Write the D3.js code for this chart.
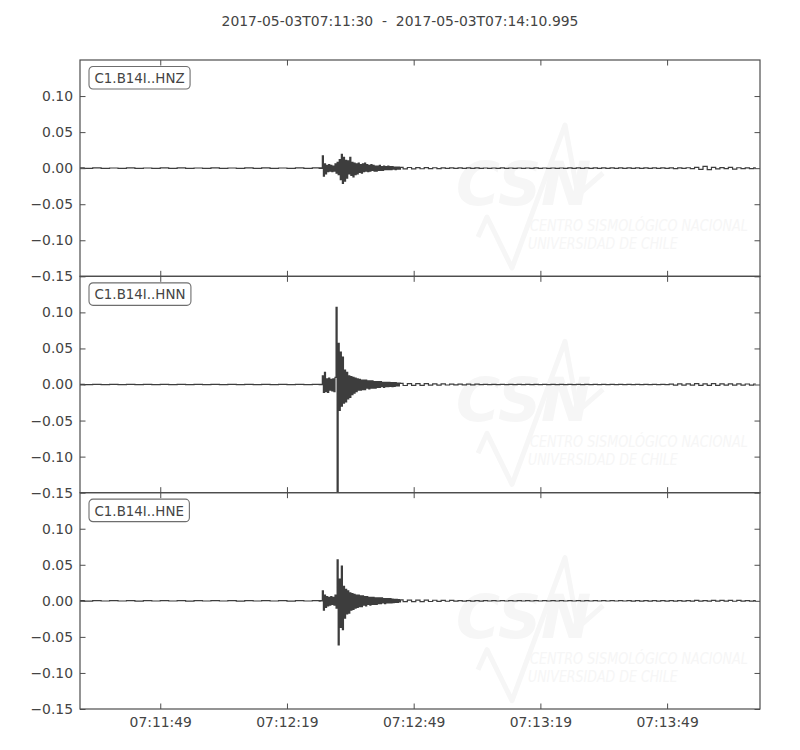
<!DOCTYPE html>
<html><head><meta charset="utf-8">
<script src="https://cdn.jsdelivr.net/npm/d3@7"></script>
<style>body{margin:0;background:#fff} svg{display:block} text{font-family:"DejaVu Sans",sans-serif}</style>
</head><body><svg id="c" width="800" height="750"></svg>
<script>
// ---------------- data ----------------
const titleText = "2017-05-03T07:11:30  -  2017-05-03T07:14:10.995";
const channels = ["C1.B14I..HNZ", "C1.B14I..HNN", "C1.B14I..HNE"];
const durationSec = 160.995;           // seconds after 07:11:30
const yTicks = [-0.15, -0.10, -0.05, 0.00, 0.05, 0.10];
const yDomain = [-0.15, 0.15];
const xTickSeconds = [19, 49, 79, 109, 139];
const xTickLabels = ["07:11:49", "07:12:19", "07:12:49", "07:13:19", "07:13:49"];

// pre-event noise: one sample every 2 s from t = 0
const preStart = 0, preStep = 2;
const hnzPre = [0.0003,-0.0002,0.0003,-0.0003,0.0002,-0.0003,0.0003,-0.0002,0.0002,-0.0003,0.0003,-0.0002,0.0003,-0.0003,0.0002,-0.0003,0.0003,-0.0002,0.0002,-0.0003,0.0003,-0.0002,0.0003,-0.0003,0.0002,-0.0003,0.0003,-0.0003,0.0003];
const hnnPre = [0.0002,-0.0002,0.0002,-0.0002,0.0002,-0.0002,0.0002,-0.0002,0.0002,-0.0002,0.0002,-0.0002,0.0002,-0.0002,0.0002,-0.0002,0.0002,-0.0002,0.0002,-0.0002,0.0002,-0.0002,0.0002,-0.0002,0.0002,-0.0002,0.0002,-0.0002,0.0002];
const hnePre = [0.0002,-0.0003,0.0002,-0.0002,0.0003,-0.0002,0.0002,-0.0003,0.0002,-0.0002,0.0003,-0.0002,0.0002,-0.0003,0.0002,-0.0002,0.0003,-0.0002,0.0002,-0.0003,0.0002,-0.0002,0.0003,-0.0002,0.0002,-0.0003,0.0002,-0.0002,0.0003];

// event: one sample every 0.25 s from t = 56.5
const eventStart = 56.5, eventStep = 0.25;
const hnzEvent = [0.0003,-0.0003,0.0003,-0.0003,
  0.017,-0.011,0.006,-0.008, 0.004,-0.005,0.005,-0.004, 0.004,-0.005,0.003,-0.004,
  0.006,-0.007,0.008,-0.009, 0.012,-0.016,0.019,-0.021, 0.015,-0.018,0.011,-0.014,
  0.010,-0.008,0.015,-0.010, 0.008,-0.012,0.007,-0.009, 0.006,-0.008,0.007,-0.006,
  0.005,-0.007,0.006,-0.005, 0.007,-0.004,0.005,-0.005, 0.004,-0.004,0.005,-0.003,
  0.004,-0.004,0.003,-0.004, 0.003,-0.003,0.004,-0.003, 0.002,-0.003,0.003,-0.002,
  0.002,-0.002,0.003,-0.002, 0.002,-0.002,0.002,-0.0015, 0.0015,-0.002,0.0015,-0.0015,
  0.0015,-0.0015];
const hnnEvent = [0.0002,-0.0002,0.0002,-0.0002,
  0.012,-0.011,0.017,-0.010, 0.008,-0.011,0.009,-0.008, 0.007,-0.009,0.008,-0.010,
  0.010,0.107,-0.155,0.057, -0.036,0.045,-0.030,0.038, -0.026,0.020,-0.024,0.017,
  -0.020,0.012,-0.018,0.011, -0.014,0.010,-0.012,0.009, -0.010,0.008,-0.008,0.007,
  -0.008,0.006,-0.007,0.006, -0.007,0.006,-0.005,0.005, -0.006,0.005,-0.005,0.005,
  -0.005,0.004,-0.005,0.004, -0.004,0.004,-0.004,0.004, -0.003,0.003,-0.004,0.003,
  -0.003,0.003,-0.003,0.003, -0.0025,0.0025,-0.003,0.0025, -0.0025,0.0025,-0.002,0.002,
  -0.002,0.002];
const hneEvent = [0.0002,-0.0003,0.0002,-0.0002,
  0.014,-0.013,0.008,-0.009, 0.006,-0.007,0.005,-0.006, 0.006,-0.005,0.005,-0.006,
  0.008,-0.010,0.057,-0.061, 0.030,-0.037,0.048,-0.040, 0.020,-0.024,0.016,-0.018,
  0.014,-0.017,0.011,-0.013, 0.010,-0.012,0.009,-0.010, 0.008,-0.009,0.008,-0.008,
  0.007,-0.008,0.007,-0.006, 0.006,-0.007,0.006,-0.005, 0.005,-0.006,0.005,-0.005,
  0.005,-0.005,0.004,-0.005, 0.004,-0.004,0.004,-0.004, 0.004,-0.003,0.003,-0.004,
  0.003,-0.003,0.003,-0.003, 0.003,-0.003,0.0025,-0.0025, 0.002,-0.002,0.002,-0.002,
  0.0018,-0.0016];

// coda: one sample every 1 s from t = 76
const codaStart = 76, codaStep = 1;
const hnzCoda = [0.0011,-0.0011,0.0009,-0.001,0.0008,-0.0008,0.0007,-0.0007,0.0006,-0.0005,
  0.0004,-0.0004,0.0004,-0.0003,0.0003,-0.0004,0.0003,-0.0003,0.0003,-0.0003,
  0.00025,-0.0003,0.00025,-0.00025,0.0003,-0.00025,0.00025,-0.00025,0.00025,-0.0003,
  0.00025,-0.00025,0.0003,-0.00025,0.00025,-0.00025,0.00025,-0.0003,0.00025,-0.00025,
  0.0003,-0.0003,0.0003,-0.0003,0.0003,-0.0003,0.0003,-0.0003,0.00035,-0.0003,
  0.00035,-0.00035,0.00035,-0.00035,0.00035,-0.00035,0.00035,-0.00035,0.0004,-0.00035,
  0.0004,-0.0004,0.0004,-0.0004,0.0004,-0.0005,0.0005,-0.0004,0.0006,-0.0006,
  0.0012,-0.0016,0.0024,-0.002,0.0012,-0.0009,0.0007,-0.0007,0.001,-0.0012,
  0.0006,-0.0006,0.0005,-0.0005,0.0005];
const hnnCoda = [0.0015,-0.0014,0.0013,-0.0013,0.0012,-0.0011,0.0011,-0.001,0.0009,-0.0009,
  0.0008,-0.0007,0.0006,-0.0006,0.0005,-0.0005,0.0004,-0.0004,0.0004,-0.0003,
  0.0003,-0.0003,0.00025,-0.00025,0.00025,-0.00025,0.00025,-0.00025,0.00025,-0.00025,
  0.00025,-0.00025,0.00025,-0.00025,0.00025,-0.00025,0.00025,-0.00025,0.00025,-0.00025,
  0.00025,-0.00025,0.00025,-0.00025,0.00025,-0.00025,0.00025,-0.00025,0.00025,-0.00025,
  0.00025,-0.00025,0.00025,-0.00025,0.00025,-0.0003,0.00025,-0.00025,0.0003,-0.00025,
  0.0003,-0.0003,0.0003,-0.0003,0.0004,-0.0008,0.001,-0.0009,0.0009,-0.001,
  0.0012,-0.0011,0.001,-0.0012,0.0013,-0.0011,0.0009,-0.001,0.0009,-0.0009,
  0.0008,-0.0009,0.0007,-0.0008,0.0007];
const hneCoda = [0.0013,-0.0012,0.0011,-0.0011,0.001,-0.001,0.0009,-0.0009,0.0008,-0.0008,
  0.0006,-0.0006,0.0005,-0.0005,0.0004,-0.0004,0.0004,-0.0003,0.0003,-0.0003,
  0.00025,-0.00025,0.00025,-0.00025,0.00025,-0.00025,0.00025,-0.00025,0.00025,-0.00025,
  0.00025,-0.00025,0.00025,-0.00025,0.00025,-0.00025,0.00025,-0.00025,0.00025,-0.00025,
  0.00025,-0.00025,0.00025,-0.00025,0.00025,-0.00025,0.00025,-0.00025,0.00025,-0.00025,
  0.00025,-0.00025,0.0003,-0.00025,0.00025,-0.0003,0.0003,-0.0003,0.0003,-0.0003,
  0.00035,-0.0003,0.00035,-0.00035,0.0004,-0.00035,0.0004,-0.0004,0.0004,-0.0004,
  0.0005,-0.0004,0.0004,-0.0005,0.0005,-0.0004,0.0006,-0.0005,0.0005,-0.0006,
  0.0005,-0.0005,0.0004,-0.0005,0.0004];

const traces = [
  {pre: hnzPre, event: hnzEvent, coda: hnzCoda},
  {pre: hnnPre, event: hnnEvent, coda: hnnCoda},
  {pre: hnePre, event: hneEvent, coda: hneCoda}
];

// ---------------- layout ----------------
(function draw() {
const svg = d3.select("#c");
const W = 800, H = 750;
const mLeft = 80, mRight = 760, mTop = 60, mBottom = 709;
const panelH = (mBottom - mTop) / channels.length;
const ink = "#444", frame = "#4d4d4d", traceColor = "#3d3d3d";
const tick = 5.5, fs = 13.9;

svg.append("rect").attr("width", W).attr("height", H).attr("fill", "#fff");

svg.append("text").attr("x", 400).attr("y", 25.5)
  .attr("text-anchor", "middle").attr("font-size", fs).attr("fill", ink)
  .style("white-space", "pre").attr("xml:space", "preserve")
  .text(titleText);

const x = d3.scaleLinear().domain([0, durationSec]).range([mLeft, mRight]);

function samples(arr, t0, dt) { return arr.map((v, i) => [t0 + i * dt, v]); }

// condensed watermark text: squeeze horizontally to a target width
function squeezed(parent, str, tx, ty, size, target) {
  const t = parent.append("text").attr("x", 0).attr("y", 0).attr("font-size", size)
    .attr("font-style", "italic").attr("font-family", "'Liberation Sans', sans-serif")
    .attr("fill", "#f6f6f6").text(str);
  const w = t.node().getComputedTextLength();
  t.attr("transform", `translate(${tx},${ty}) scale(${target / w},1)`);
}

channels.forEach((name, k) => {
  const py0 = mTop + k * panelH, py1 = py0 + panelH;
  const y = d3.scaleLinear().domain(yDomain).range([py1, py0]);
  const g = svg.append("g");
  const clipId = "clip" + k;
  svg.append("clipPath").attr("id", clipId).append("rect")
    .attr("x", mLeft).attr("y", py0).attr("width", mRight - mLeft).attr("height", panelH);

  // watermark (decoration)
  const wm = g.append("g").attr("transform", `translate(${mLeft},${py0})`).attr("pointer-events", "none");
  const wmCol = "#f6f6f6";
  wm.append("path").attr("d", "M398,177 L407,157 L432,208 L485,65 L498,135 L523,113")
    .attr("fill", "none").attr("stroke", wmCol).attr("stroke-width", 5).attr("stroke-linejoin", "round");
  wm.append("text").attr("x", 376).attr("y", 145).attr("font-size", 60)
    .attr("font-weight", "bold").attr("font-style", "italic").attr("fill", wmCol).text("CSN");
  squeezed(wm, "CENTRO SISMOLÓGICO NACIONAL", 450, 171, 16.5, 218);
  squeezed(wm, "UNIVERSIDAD DE CHILE", 448, 189, 16.5, 150);

  // trace
  const tr = traces[k];
  const pts = samples(tr.pre, preStart, preStep)
    .concat(samples(tr.event, eventStart, eventStep))
    .concat(samples(tr.coda, codaStart, codaStep));
  const line = d3.line().x(d => x(d[0])).y(d => y(d[1])).curve(d3.curveStep);
  g.append("path").datum(pts).attr("clip-path", `url(#${clipId})`)
    .attr("d", line).attr("fill", "none").attr("stroke", traceColor)
    .attr("stroke-width", 1.2).attr("stroke-linejoin", "miter");

  // axes (ticks pointing inward on all four sides)
  const xb = d3.axisBottom(x).tickValues(xTickSeconds).tickSizeInner(-tick).tickSizeOuter(0)
    .tickPadding(8).tickFormat((d, i) => k === channels.length - 1 ? xTickLabels[i] : "");
  const xt = d3.axisTop(x).tickValues(xTickSeconds).tickSizeInner(-tick).tickSizeOuter(0).tickFormat("");
  const yl = d3.axisLeft(y).tickValues(yTicks).tickSizeInner(-tick).tickSizeOuter(0)
    .tickPadding(7).tickFormat(d => d3.format(".2f")(d).replace("-", "\u2212"));
  const yr = d3.axisRight(y).tickValues(yTicks).tickSizeInner(-tick).tickSizeOuter(0).tickFormat("");
  [[xb, `translate(0,${py1})`], [xt, `translate(0,${py0})`], [yl, `translate(${mLeft},0)`], [yr, `translate(${mRight},0)`]]
    .forEach(([ax, tf]) => {
      const a = g.append("g").attr("transform", tf).call(ax);
      a.select(".domain").remove();
      a.selectAll("line").attr("stroke", frame).attr("stroke-width", 1);
      a.selectAll("text").attr("fill", ink).attr("font-size", fs).attr("font-family", "DejaVu Sans");
    });

  g.append("rect").attr("x", mLeft).attr("y", py0).attr("width", mRight - mLeft).attr("height", panelH)
    .attr("fill", "none").attr("stroke", frame).attr("stroke-width", 1.2);

  // channel label box
  const lb = g.append("g").attr("transform", `translate(${mLeft + 9},${py0 + 6.5})`);
  const lt = lb.append("text").attr("x", 5.5).attr("y", 16.5).attr("font-size", 13.4).attr("fill", ink).text(name);
  const bw = lt.node().getComputedTextLength() + 11;
  lb.insert("rect", "text").attr("width", bw).attr("height", 22.5).attr("rx", 4).attr("ry", 4)
    .attr("fill", "#fff").attr("stroke", "#6e6e6e").attr("stroke-width", 1.1);
});
})();
</script></body></html>
